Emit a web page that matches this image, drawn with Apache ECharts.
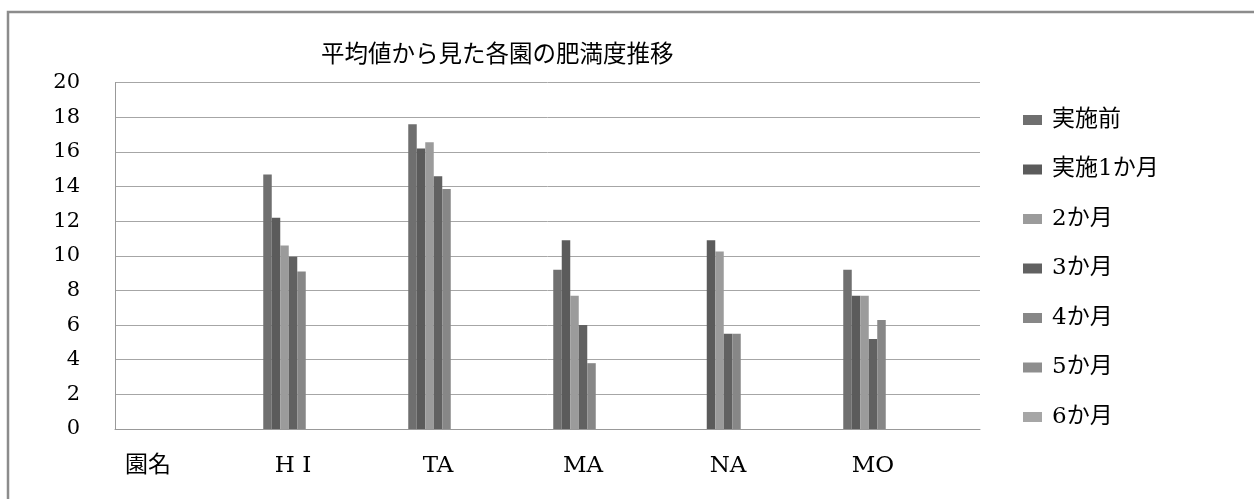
<!DOCTYPE html>
<html><head><meta charset="utf-8">
<script src="https://cdn.jsdelivr.net/npm/echarts@6/dist/echarts.min.js"></script>
<style>html,body{margin:0;padding:0;background:#fff}#c{width:1254px;height:499px}</style>
</head><body><div id="c"></div>
<script>
const categories = ['園名', 'H I', 'TA', 'MA', 'NA', 'MO'];
const seriesNames = ['実施前', '実施1か月', '2か月', '3か月', '4か月', '5か月', '6か月'];
const v0 = [null, 14.7, 17.6, 9.2, null, 9.2];
const v1 = [null, 12.2, 16.2, 10.9, 10.9, 7.7];
const v2 = [null, 10.6, 16.55, 7.7, 10.25, 7.7];
const v3 = [null, 9.95, 14.6, 6.0, 5.5, 5.2];
const v4 = [null, 9.1, 13.85, 3.8, 5.5, 6.3];
const v5 = [null, null, null, null, null, null];
const v6 = [null, null, null, null, null, null];
const values = [v0, v1, v2, v3, v4, v5, v6];
const colors = ['#6f6f6f', '#5b5b5b', '#9b9b9b', '#616161', '#878787', '#8e8e8e', '#a6a6a6'];
const yTicks = {min: 0, max: 20, interval: 2};

const serif = '"DejaVu Serif", "Noto Sans CJK JP", serif';
const chart = echarts.init(document.getElementById('c'));
chart.setOption({
  animation: false,
  backgroundColor: '#fff',
  title: {
    text: '平均値から見た各園の肥満度推移',
    left: 316, top: 36,
    textStyle: {fontFamily: '"Noto Sans CJK JP", sans-serif', fontSize: 23.5, fontWeight: 'normal', color: '#000'}
  },
  graphic: [{
    type: 'rect', z: -10, silent: true,
    shape: {x: 8, y: 12, width: 1300, height: 600},
    style: {fill: 'none', stroke: '#8c8c8c', lineWidth: 2.5}
  }],
  legend: {
    orient: 'vertical', left: 1018, top: 103, itemGap: 25.5,
    itemWidth: 19, itemHeight: 10, icon: 'rect',
    data: seriesNames,
    textStyle: {fontFamily: serif, fontSize: 23, color: '#000', lineHeight: 24, padding: [0, 0, 0, 5]}
  },
  grid: [
    {left: 115, right: 274, top: 82.6, bottom: 70},
    {left: 75.5, width: 870, top: 82.6, bottom: 70}
  ],
  xAxis: [
    {type: 'category', gridIndex: 0, data: categories, axisLabel: {show: false},
     axisTick: {show: false}, axisLine: {lineStyle: {color: '#999', width: 1}}},
    {type: 'category', gridIndex: 1, data: categories,
     axisLine: {show: false}, axisTick: {show: false},
     axisLabel: {margin: 26, fontFamily: serif, fontSize: 23, color: '#000'}}
  ],
  yAxis: [
    {type: 'value', gridIndex: 0, min: yTicks.min, max: yTicks.max, interval: yTicks.interval,
     axisLine: {show: true, lineStyle: {color: '#999', width: 1}}, axisTick: {show: false},
     axisLabel: {margin: 35, fontFamily: serif, fontSize: 21, color: '#000'},
     splitLine: {lineStyle: {color: '#a6a6a6', width: 1}}},
    {type: 'value', gridIndex: 1, min: yTicks.min, max: yTicks.max, interval: yTicks.interval, show: false}
  ],
  series: seriesNames.map((n, i) => ({
    name: n, type: 'bar', xAxisIndex: 1, yAxisIndex: 1,
    data: values[i], barWidth: 8.5, barGap: '0%',
    itemStyle: {color: colors[i]}
  }))
});
</script></body></html>
